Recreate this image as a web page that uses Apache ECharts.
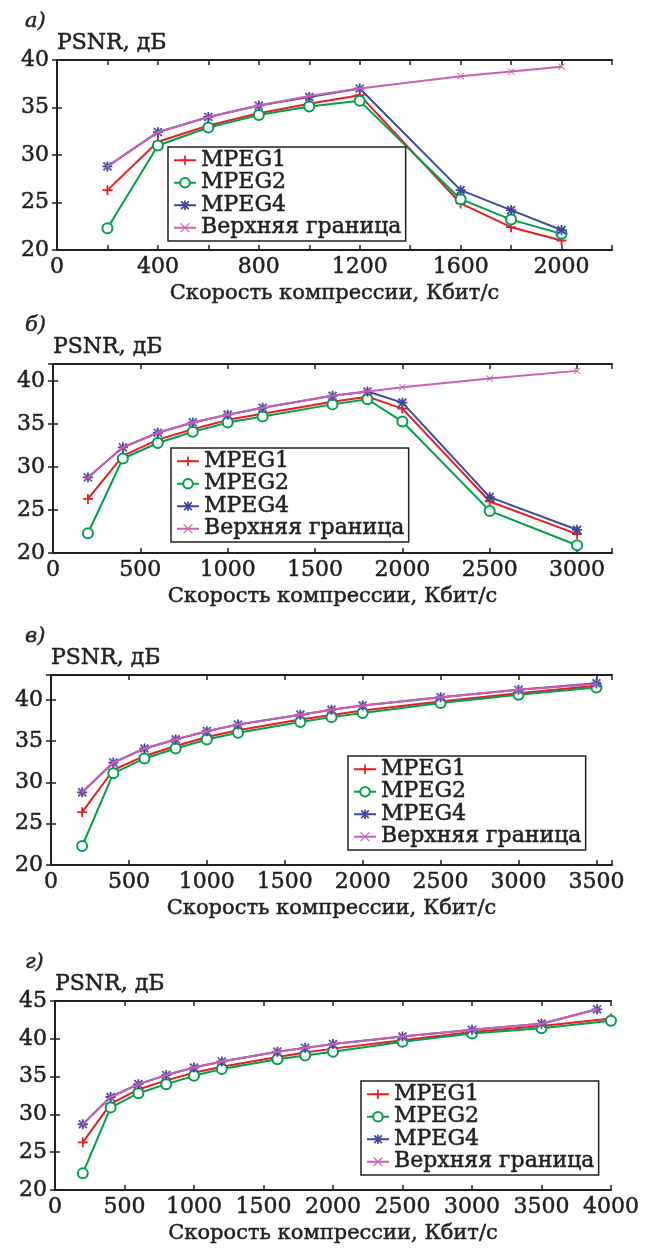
<!DOCTYPE html>
<html lang="ru">
<head>
    <meta charset="UTF-8">
    <title>PSNR vs bitrate</title>
    <script src="https://cdn.jsdelivr.net/npm/echarts@6/dist/echarts.min.js"></script>
    <style>
        body { margin: 0; background: #fff; }
        #chart { width: 648px; height: 1248px; }
    </style>
</head>
<body>
    <div id="chart"></div>

    <script>
        const seriesNames = ['MPEG1', 'MPEG2', 'MPEG4', 'Верхняя граница'];

        // panel a
        const aX = [200, 400, 600, 800, 1000, 1200, 1600, 1800, 2000];
        const aMpeg1 = [26.3, 31.4, 33.1, 34.4, 35.4, 36.3, 24.9, 22.4, 21.0];
        const aMpeg2 = [22.3, 31.0, 32.9, 34.2, 35.1, 35.7, 25.35, 23.2, 21.7];
        const aMpeg4 = [28.8, 32.4, 34.0, 35.2, 36.1, 37.0, 26.3, 24.2, 22.1];
        const aUpper = [28.8, 32.4, 34.0, 35.2, 36.2, 37.0, 38.3, 38.8, 39.3];
        const aXLabels = [0, 400, 800, 1200, 1600, 2000];

        // panel b
        const bX = [200, 400, 600, 800, 1000, 1200, 1600, 1800, 2000, 2500, 3000];
        const bMpeg1 = [26.3, 31.3, 33.2, 34.4, 35.5, 36.2, 37.6, 38.2, 36.8, 26.0, 22.2];
        const bMpeg2 = [22.3, 31.0, 32.8, 34.1, 35.2, 35.9, 37.3, 37.9, 35.3, 24.9, 20.9];
        const bMpeg4 = [28.8, 32.3, 34.0, 35.2, 36.1, 36.9, 38.3, 38.8, 37.5, 26.5, 22.7];
        const bUpper = [28.8, 32.3, 34.0, 35.2, 36.1, 36.9, 38.3, 38.8, 39.3, 40.3, 41.2];
        const bXLabels = [0, 500, 1000, 1500, 2000, 2500, 3000];

        // panel c
        const cX = [200, 400, 600, 800, 1000, 1200, 1600, 1800, 2000, 2500, 3000, 3500];
        const cMpeg1 = [26.4, 31.5, 33.2, 34.4, 35.5, 36.3, 37.6, 38.15, 38.7, 39.8, 40.8, 41.7];
        const cMpeg2 = [22.3, 31.1, 32.9, 34.1, 35.2, 36.0, 37.3, 37.9, 38.4, 39.6, 40.6, 41.5];
        const cMpeg4 = [28.8, 32.4, 34.1, 35.2, 36.2, 37.0, 38.2, 38.8, 39.3, 40.3, 41.2, 42.0];
        const cUpper = [28.8, 32.4, 34.1, 35.2, 36.2, 37.0, 38.2, 38.8, 39.3, 40.3, 41.2, 41.9];
        const cXLabels = [0, 500, 1000, 1500, 2000, 2500, 3000, 3500];

        // panel d (MPEG1/MPEG2 end at 4000, the others at 3900)
        const dX = [200, 400, 600, 800, 1000, 1200, 1600, 1800, 2000, 2500, 3000, 3500, 3900];
        const dX12 = [200, 400, 600, 800, 1000, 1200, 1600, 1800, 2000, 2500, 3000, 3500, 4000];
        const dMpeg1 = [26.3, 31.4, 33.3, 34.5, 35.5, 36.3, 37.6, 38.2, 38.7, 39.8, 40.9, 41.7, 42.7];
        const dMpeg2 = [22.2, 30.9, 32.8, 34.0, 35.1, 36.0, 37.3, 37.8, 38.3, 39.6, 40.7, 41.4, 42.4];
        const dMpeg4 = [28.7, 32.3, 34.0, 35.2, 36.2, 37.0, 38.3, 38.8, 39.3, 40.3, 41.2, 42.0, 43.9];
        const dUpper = [28.7, 32.3, 34.0, 35.2, 36.2, 37.0, 38.3, 38.8, 39.3, 40.3, 41.2, 42.0, 43.9];
        const dXLabels = [0, 500, 1000, 1500, 2000, 2500, 3000, 3500, 4000];

        const yLabels = [20, 25, 30, 35, 40, 45];

        const FONT = '"DejaVu Serif", "Liberation Serif", serif';
        const INK = '#231f20';
        const colors = ['#ec1c24', '#00a04a', '#3b4aa0', '#cc5fb4'];
        // slight outline so the serif text looks as heavy as the print
        const heavy = { textBorderColor: INK, textBorderWidth: 0.5 };

        const plusPath = 'path://M4.1,0H5.9V4.1H10V5.9H5.9V10H4.1V5.9H0V4.1H4.1Z';
        const starPath = 'path://M0,4.1H10V5.9H0Z M4.1,0H5.9V10H4.1Z ' +
            'M1.7,0.4L9.6,8.3L8.3,9.6L0.4,1.7Z M8.3,0.4L9.6,1.7L1.7,9.6L0.4,8.3Z';
        const crossPath = 'path://M1,0.2L9.8,9L9,9.8L0.2,1Z M9,0.2L9.8,1L1,9.8L0.2,9Z';

        const panels = [
            { letter: 'а)', grid: { left: 57, top: 60, width: 555, height: 190 },
              xMax: 2200, xStep: 200, xLabels: aXLabels, yMax: 40,
              x: [aX, aX, aX, aX], y: [aMpeg1, aMpeg2, aMpeg4, aUpper],
              legend: { left: 168, top: 147 } },
            { letter: 'б)', grid: { left: 53, top: 364, width: 559, height: 189 },
              xMax: 3200, xStep: 500, xLabels: bXLabels, yMax: 42,
              x: [bX, bX, bX, bX], y: [bMpeg1, bMpeg2, bMpeg4, bUpper],
              legend: { left: 171, top: 448 } },
            { letter: 'в)', grid: { left: 51, top: 675, width: 561, height: 190 },
              xMax: 3600, xStep: 500, xLabels: cXLabels, yMax: 43,
              x: [cX, cX, cX, cX], y: [cMpeg1, cMpeg2, cMpeg4, cUpper],
              legend: { left: 348, top: 756 } },
            { letter: 'г)', grid: { left: 55, top: 1001, width: 556, height: 189 },
              xMax: 4000, xStep: 500, xLabels: dXLabels, yMax: 45,
              x: [dX12, dX12, dX, dX], y: [dMpeg1, dMpeg2, dMpeg4, dUpper],
              legend: { left: 361, top: 1081 } }
        ];

        const symbols = [
            { symbol: plusPath, symbolSize: 10 },
            { symbol: 'emptyCircle', symbolSize: 10 },
            { symbol: starPath, symbolSize: 10 },
            { symbol: crossPath, symbolSize: 7 }
        ];

        const option = {
            backgroundColor: '#fff',
            animation: false,
            title: [], grid: [], xAxis: [], yAxis: [], legend: [], series: []
        };

        const axisLine = { show: true, lineStyle: { color: INK, width: 2 } };
        const axisTick = { show: true, inside: true, length: 5, lineStyle: { color: INK, width: 1.5 } };

        panels.forEach((p, i) => {
            const g = p.grid;
            option.grid.push(g);
            option.title.push({
                text: p.letter, left: 20, top: g.top - 54,
                textStyle: { fontFamily: FONT, fontStyle: 'italic', fontWeight: 'normal', fontSize: 21, color: INK, ...heavy }
            });
            option.title.push({
                text: 'PSNR, дБ', left: g.left - 5, top: g.top - 33,
                textStyle: { fontFamily: FONT, fontWeight: 'normal', fontSize: 22, color: INK, ...heavy }
            });
            // bottom + top x axes
            option.xAxis.push({
                type: 'value', gridIndex: i, position: 'bottom', min: 0, max: p.xMax, interval: p.xStep,
                axisLine, axisTick, splitLine: { show: false },
                axisLabel: {
                    fontFamily: FONT, fontSize: 22, color: INK, margin: 6, ...heavy,
                    formatter: v => p.xLabels.includes(v) ? String(v) : ''
                },
                name: 'Скорость компрессии, Кбит/с', nameLocation: 'middle', nameGap: 33,
                nameTextStyle: { fontFamily: FONT, fontSize: 21, color: INK, ...heavy }
            });
            option.xAxis.push({
                type: 'value', gridIndex: i, position: 'top', min: 0, max: p.xMax, interval: p.xStep,
                axisLine, axisTick, axisLabel: { show: false }, splitLine: { show: false }
            });
            option.yAxis.push({
                type: 'value', gridIndex: i, position: 'left', min: 20, max: p.yMax, interval: 5,
                axisLine, axisTick, splitLine: { show: false },
                axisLabel: {
                    fontFamily: FONT, fontSize: 22, color: INK, margin: 8, ...heavy,
                    formatter: v => yLabels.includes(v) ? String(v) : ''
                }
            });
            option.yAxis.push({
                type: 'value', gridIndex: i, position: 'right', min: 20, max: p.yMax, interval: 5,
                axisLine, axisTick, axisLabel: { show: false }, splitLine: { show: false }
            });
            option.legend.push({
                orient: 'vertical', left: p.legend.left, top: p.legend.top,
                data: seriesNames,
                itemWidth: 22, itemHeight: 12, itemGap: 0,
                padding: [2, 4, 2, 5],
                borderColor: INK, borderWidth: 1.5, backgroundColor: '#fff',
                textStyle: { fontFamily: FONT, fontSize: 22, color: INK, lineHeight: 22, ...heavy },
                selectedMode: false
            });
            seriesNames.forEach((name, k) => {
                option.series.push({
                    name, type: 'line',
                    xAxisIndex: 2 * i, yAxisIndex: 2 * i,
                    data: p.x[k].map((xv, j) => [xv, p.y[k][j]]),
                    symbol: symbols[k].symbol, symbolSize: symbols[k].symbolSize,
                    lineStyle: { color: colors[k], width: 2 },
                    itemStyle: { color: colors[k], borderColor: colors[k], borderWidth: k === 1 ? 1.8 : 0 },
                    z: 2 + k
                });
            });
        });

        const chart = echarts.init(document.getElementById('chart'), null, { renderer: 'canvas' });
        chart.setOption(option);
    </script>
</body>
</html>
